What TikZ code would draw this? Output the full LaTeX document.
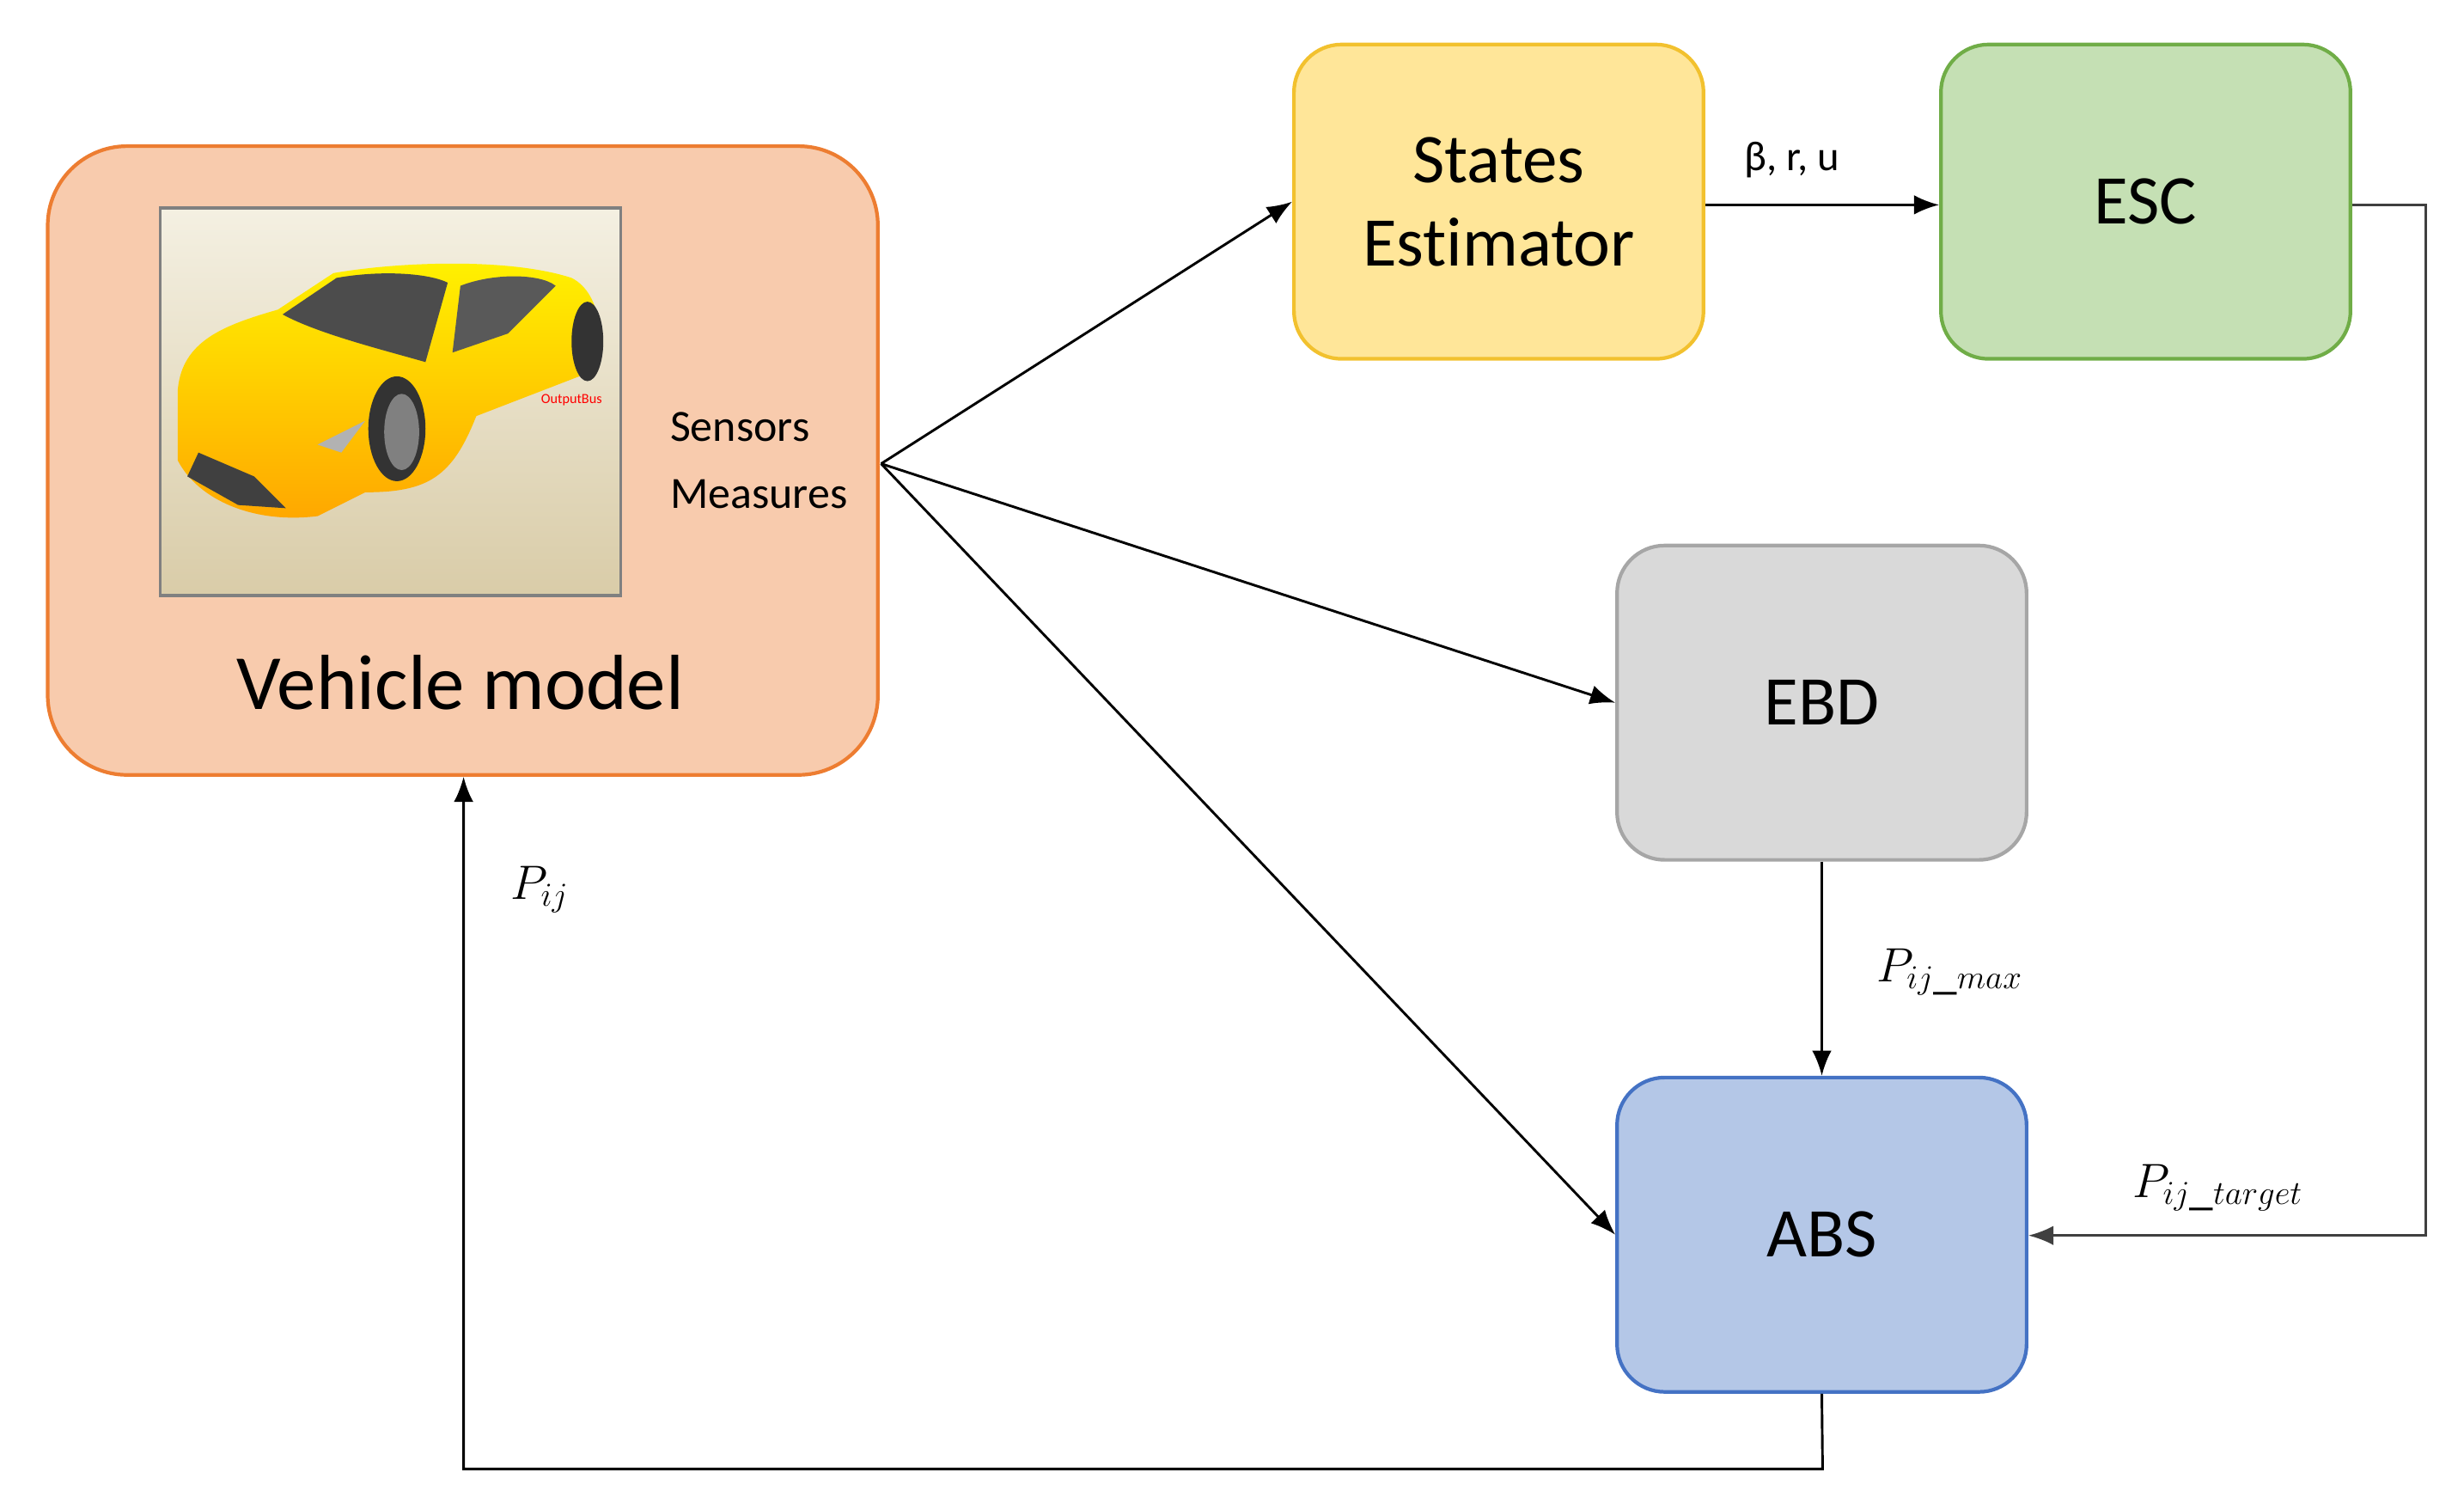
\documentclass[tikz,border=0pt]{standalone}
\usepackage{fontspec}
\setmainfont[Ligatures=NoCommon]{Carlito}
\usetikzlibrary{arrows.meta}
\begin{document}
\begin{tikzpicture}[x=0.02cm,y=-0.02cm,
 box/.style={draw,rounded corners=0.6cm,line width=1.3pt,minimum width=5.16cm,minimum height=3.96cm,align=center,font=\fontsize{25}{30}\selectfont},
 arr/.style={-{Latex[length=9pt,width=7pt]},line width=0.9pt},
 lbl/.style={font=\fontsize{17}{20}\selectfont}]
\useasboundingbox (0,0) rectangle (1552,946);
\definecolor{vfill}{HTML}{F8CBAD}\definecolor{vdraw}{HTML}{ED7D31}
\definecolor{sfill}{HTML}{FFE699}\definecolor{sdraw}{HTML}{F2C12E}
\definecolor{efill}{HTML}{C5E0B4}\definecolor{edraw}{HTML}{70AD47}
\definecolor{gfill}{HTML}{D9D9D9}\definecolor{gdraw}{HTML}{A6A6A6}
\definecolor{afill}{HTML}{B4C7E7}\definecolor{adraw}{HTML}{4472C4}
\definecolor{imtop}{HTML}{F4F0E2}\definecolor{imbot}{HTML}{D9CCA8}
% vehicle
\node[box,fill=vfill,draw=vdraw,minimum width=10.46cm,minimum height=7.92cm,rounded corners=1cm] (veh) at (291.5,290) {};
\node[font=\fontsize{28}{32}\selectfont] (vm) at (290,430) {Vehicle model};
\shade[top color=imtop,bottom color=imbot] (101,131) rectangle (391,375);
\draw[gray,line width=1pt] (101,131) rectangle (391,375);
% car
\shade[top color=yellow!90!orange,bottom color=orange!70!yellow] (112,245) .. controls (115,215) and (140,205) .. (175,195) -- (210,172) .. controls (250,165) and (320,162) .. (360,175) .. controls (380,185) and (382,220) .. (370,235) -- (300,262) .. controls (285,300) and (270,310) .. (230,310) -- (200,325) .. controls (160,330) and (125,315) .. (112,290) -- cycle;
\fill[black!70] (178,198) -- (212,175) .. controls (240,170) and (270,172) .. (282,178) -- (268,228) .. controls (240,220) and (200,210) .. (178,198) -- cycle;
\fill[black!65] (290,180) .. controls (310,172) and (340,172) .. (350,180) -- (320,210) -- (285,222) -- cycle;
\fill[black!80] (250,270) ellipse (18 and 33);
\fill[gray] (253,272) ellipse (11 and 24);
\fill[black!80] (370,215) ellipse (10 and 25);
\fill[black!75] (125,285) -- (160,300) -- (180,320) -- (150,318) -- (118,300) -- cycle;
\fill[gray!60] (200,280) -- (230,265) -- (215,285) -- cycle;
\node[red,font=\fontsize{5}{6}\selectfont] at (360,252) {OutputBus};
\node[lbl,align=left,font=\fontsize{16}{24}\selectfont] (sm) at (478,290) {Sensors\\Measures};
\coordinate (src) at (555,292);
% other boxes
\node[box,fill=sfill,draw=sdraw] (se) at (944,127) {States\\Estimator};
\node[box,fill=efill,draw=edraw] (esc) at (1351.5,127) {ESC};
\node[box,fill=gfill,draw=gdraw] (ebd) at (1147.5,442.5) {EBD};
\node[box,fill=afill,draw=adraw] (abs) at (1147.5,777.5) {ABS};
% connectors
\draw[arr] (src) -- (se.west);
\draw[arr] (src) -- (ebd.west);
\draw[arr] (src) -- (abs.west);
\draw[arr] (se.east |- 0,129) -- node[lbl,above=6pt,pos=0.37,font=\fontsize{15}{18}\selectfont]{β, r, u} (esc.west |- 0,129);
\draw[arr,black!75] (esc.east |- 0,129) -- (1528,129) -- (1528,778) -- (abs.east |- 0,778);
\node[lbl] at (1397,748) {$P_{ij\_target}$};
\draw[arr] (ebd) -- (abs);
\node[lbl] at (1228,612) {$P_{ij\_max}$};
\draw[arr] (abs.south) -- (1148,925) -- (292,925) -- (veh.south -| 292,0);
\node[lbl] at (340,560) {$P_{ij}$};
\end{tikzpicture}
\end{document}
